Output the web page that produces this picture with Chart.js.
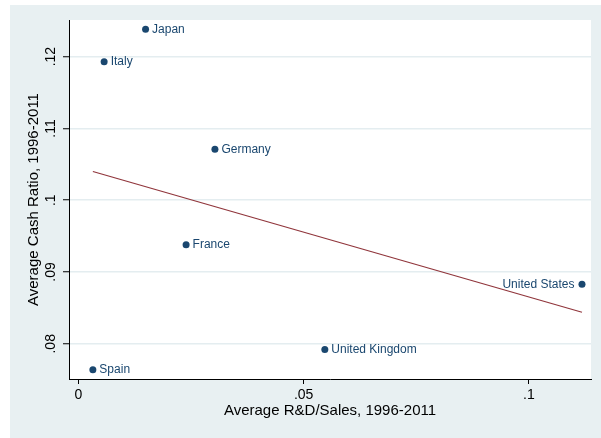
<!DOCTYPE html>
<html>
<head>
<meta charset="utf-8">
<script src="https://cdn.jsdelivr.net/npm/chart.js@4.4.1/dist/chart.umd.min.js"></script>
<style>
  html, body { margin: 0; padding: 0; background: #ffffff; }
  canvas { display: block; }
</style>
</head>
<body>
<canvas id="c" width="601" height="438"></canvas>
<script>
// Country averages over 1996-2011
const countries = ["Japan", "Italy", "Germany", "France", "Spain", "United Kingdom", "United States"];
const rdSales   = [0.0149, 0.0057, 0.0303, 0.0239, 0.0032, 0.0547, 0.1118];
const cashRatio = [0.1238, 0.1193, 0.1071, 0.0938, 0.0764, 0.0792, 0.0883];
const labelSide = ["right", "right", "right", "right", "right", "right", "left"];

// Fitted values at the ends of the data range
const fitX = [0.0032, 0.1118];
const fitY = [0.1040, 0.0844];

const xTicks = [0, 0.05, 0.1];
const xTickLabels = ["0", ".05", ".1"];
const yTicks = [0.08, 0.09, 0.10, 0.11, 0.12];
const yTickLabels = [".08", ".09", ".1", ".11", ".12"];

const xTitle = "Average R&D/Sales, 1996-2011";
const yTitle = "Average Cash Ratio, 1996-2011";

const FONT = "'Liberation Sans', Arial, Helvetica, sans-serif";
const NAVY = "#1a476f";
const MAROON = "#90353b";
const REGION = "#e8f0f2";

const points = countries.map((c, i) => ({ x: rdSales[i], y: cashRatio[i] }));
const fitLine = fitX.map((x, i) => ({ x: x, y: fitY[i] }));

const decor = {
  id: 'decor',
  beforeDraw(chart) {
    const ctx = chart.ctx, a = chart.chartArea;
    ctx.save();
    ctx.fillStyle = '#ffffff';
    ctx.fillRect(0, 0, chart.width, chart.height);
    ctx.fillStyle = REGION;
    ctx.fillRect(10, 5, chart.width - 10, chart.height - 5);
    ctx.fillStyle = '#ffffff';
    ctx.fillRect(a.left, a.top, a.right - a.left, a.bottom - a.top);
    ctx.restore();
  },
  afterDatasetsDraw(chart) {
    const ctx = chart.ctx;
    const meta = chart.getDatasetMeta(0);
    ctx.save();
    ctx.font = "12px " + FONT;
    ctx.fillStyle = NAVY;
    ctx.textBaseline = 'middle';
    meta.data.forEach((pt, i) => {
      if (labelSide[i] === 'left') {
        ctx.textAlign = 'right';
        ctx.fillText(countries[i], pt.x - 7.5, pt.y);
      } else {
        ctx.textAlign = 'left';
        ctx.fillText(countries[i], pt.x + 6.5, pt.y);
      }
    });
    ctx.restore();
  },
  afterDraw(chart) {
    const ctx = chart.ctx, a = chart.chartArea, ys = chart.scales.y;
    ctx.save();
    ctx.fillStyle = '#000000';
    // vertical tick labels on the y axis
    ctx.font = "14px " + FONT;
    ctx.textAlign = 'center';
    ctx.textBaseline = 'middle';
    ys.ticks.forEach((t, i) => {
      const py = ys.getPixelForValue(t.value);
      ctx.save();
      ctx.translate(51, py);
      ctx.rotate(-Math.PI / 2);
      ctx.fillText(yTickLabels[i], 0, 0);
      ctx.restore();
    });
    // axis titles
    ctx.font = "15px " + FONT;
    ctx.fillText(xTitle, (a.left + a.right) / 2, 411);
    ctx.save();
    ctx.translate(34, (a.top + a.bottom) / 2);
    ctx.rotate(-Math.PI / 2);
    ctx.fillText(yTitle, 0, 0);
    ctx.restore();
    ctx.restore();
  }
};

new Chart(document.getElementById('c'), {
  type: 'scatter',
  data: {
    datasets: [
      {
        label: 'Cash ratio',
        data: points,
        pointRadius: 3.5,
        pointHoverRadius: 3.5,
        pointBackgroundColor: NAVY,
        pointBorderWidth: 0,
        showLine: false
      },
      {
        label: 'Fitted values',
        data: fitLine,
        showLine: true,
        borderColor: MAROON,
        borderWidth: 1.2,
        pointRadius: 0,
        fill: false
      }
    ]
  },
  options: {
    responsive: false,
    animation: false,
    devicePixelRatio: 1,
    layout: { padding: { left: 0, right: 10, top: 20, bottom: 0 } },
    plugins: { legend: { display: false }, tooltip: { enabled: false } },
    scales: {
      x: {
        type: 'linear',
        min: -0.0021,
        max: 0.1138,
        afterBuildTicks(s) { s.ticks = xTicks.map(v => ({ value: v })); },
        afterFit(s) { s.height = 59; },
        ticks: {
          autoSkip: false,
          maxRotation: 0,
          padding: 3,
          color: '#000000',
          font: { family: FONT, size: 14 },
          callback: (v, i) => xTickLabels[i]
        },
        grid: { drawOnChartArea: false, drawTicks: true, tickLength: 5, tickColor: '#000000', tickWidth: 1 },
        border: { display: true, color: '#000000', width: 1 }
      },
      y: {
        type: 'linear',
        min: 0.0751,
        max: 0.1251,
        afterBuildTicks(s) { s.ticks = yTicks.map(v => ({ value: v })); },
        afterFit(s) { s.width = 69; },
        ticks: { display: false },
        grid: { color: '#e4edf0', lineWidth: 1.5, drawTicks: true, tickLength: 6, tickColor: '#000000', tickWidth: 1 },
        border: { display: true, color: '#000000', width: 1 }
      }
    }
  },
  plugins: [decor]
});
</script>
</body>
</html>
